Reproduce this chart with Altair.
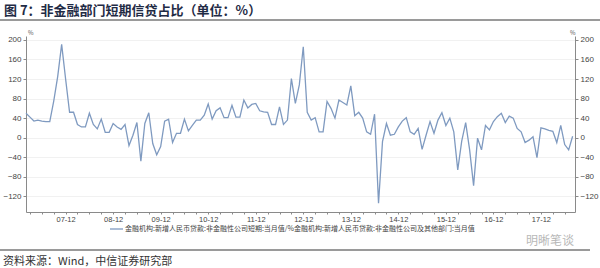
import altair as alt
import pandas as pd

# Monthly share (%) of short-term loans to non-financial corporates in new RMB loans
# month index: 0 = 2007-01, first value = 2007-02
share = [50, 42, 34, 36, 34, 33, 33, 75, 125, 191,
         120, 52, 52, 27, 22, 22, 50, 27, 18, 38,
         11, 11, 29, 22, 17, 27, -16, 5, 31, -48,
         29, 51, -12, -35, -18, 34, 38, -10, 9, 9,
         38, 14, 25, 36, 36, 46, 69, 38, 55, 61,
         41, 41, 66, 42, 42, 77, 61, 68, 70, 55,
         53, 52, 27, 27, 63, 27, 36, 121, 70, 108,
         186, 52, 36, 41, 12, 12, 74, 60, 40, 77,
         72, 67, 106, 45, 52, 40, 12, 7, 48, -134,
         -8, 29, 5, 7, 22, 34, 41, 12, 7, 19,
         -24, 5, 33, 9, 36, 51, 25, 40, 12, -66,
         -7, 31, -25, -98, -1, -25, 25, 16, 33, 43,
         50, 31, 44, 40, 19, 12, -10, -5, 2, -41,
         20, 18, 15, 13, -10, 25, -14, -25, 3]
first_month = 1
months = list(range(first_month, first_month + len(share)))

y_ticks = [-120, -80, -40, 0, 40, 80, 120, 160, 200]
x_ticks = list(range(2, 140, 3))

title_text = "图 7：非金融部门短期信贷占比（单位：%）"
legend_text = "金融机构:新增人民币贷款:非金融性公司短期:当月值/%金融机构:新增人民币贷款:非金融性公司及其他部门:当月值"
source_text = "资料来源：Wind，中信证券研究部"
watermark_text = "明晰笔谈"

df = pd.DataFrame({"m": months, "v": share})

FONT = "Liberation Sans"
line_color = "#7f9ac0"

xs = alt.Scale(domain=[1, 139.6], nice=False, zero=False)
ys = alt.Scale(domain=[-152, 208], nice=False, zero=False)

x_axis = alt.Axis(values=x_ticks, title=None, grid=False, tickSize=2,
                  labelExpr="(datum.value - 11) % 12 == 0 ? format((datum.value - 11) / 12 + 7, '02') + '-12' : ''",
                  labelFontSize=7.5, labelColor="#444", labelFont=FONT, labelPadding=1,
                  labelOverlap=False, labelFlush=False,
                  domainColor="#8a8a8a", tickColor="#8a8a8a")

left_y = alt.Axis(values=y_ticks, title=None, tickSize=3, labelFontSize=8,
                  labelColor="#444", labelFont=FONT, labelPadding=2,
                  grid=True, gridColor="#f1f1f1", domainColor="#8a8a8a", tickColor="#8a8a8a")
right_y = alt.Axis(values=y_ticks, title=None, tickSize=3, labelFontSize=8, orient="right",
                   labelColor="#444", labelFont=FONT, labelPadding=2,
                   grid=False, domainColor="#8a8a8a", tickColor="#8a8a8a")

line_left = alt.Chart(df).mark_line(color=line_color, strokeWidth=1.3).encode(
    x=alt.X("m:Q", scale=xs, axis=x_axis),
    y=alt.Y("v:Q", scale=ys, axis=left_y),
)
line_right = alt.Chart(df).mark_line(color=line_color, strokeWidth=1.3, opacity=0).encode(
    x=alt.X("m:Q", scale=xs, axis=x_axis),
    y=alt.Y("v:Q", scale=ys, axis=right_y),
)

one = pd.DataFrame({"a": [0]})

def txt(t, x, y, size, color, weight="normal", align="left"):
    return alt.Chart(pd.DataFrame({"t": [t]})).mark_text(
        align=align, baseline="middle", fontSize=size, color=color,
        font="Noto Sans CJK SC", fontWeight=weight
    ).encode(x=alt.value(x), y=alt.value(y), text="t:N")

def hline(x1, x2, y, color, w):
    return alt.Chart(one).mark_rule(color=color, strokeWidth=w).encode(
        x=alt.value(x1), x2=alt.value(x2), y=alt.value(y))

# offsets relative to plot origin (26, 36)
title = txt(title_text, -22, -25, 13, "#1f2b45", "bold")
top_rule = hline(-26, 574, -16, "#9a9a9a", 2)
pct_l = txt("%", 2, -3, 6, "#555")
pct_r = txt("%", 544, -3, 6, "#555")
leg_line = hline(84, 97, 193, line_color, 1.3)
leg_text = txt(legend_text, 99, 193, 7, "#444")
water = txt(watermark_text, 500, 205, 12, "#b8b8b8")
bot_rule = hline(-26, 564, 214, "#9a9a9a", 2)
source = txt(source_text, -23, 226, 11, "#333")

chart = alt.layer(
    line_left, line_right,
    title, top_rule, pct_l, pct_r, leg_line, leg_text, water, bot_rule, source
).resolve_axis(y="independent").properties(
    width=549, height=176, autosize="none",
    padding={"left": 26, "top": 36, "right": 25, "bottom": 56},
    background="white",
).configure_view(stroke=None)

chart.save("out.html", embed_options={"renderer": "svg", "actions": False})
